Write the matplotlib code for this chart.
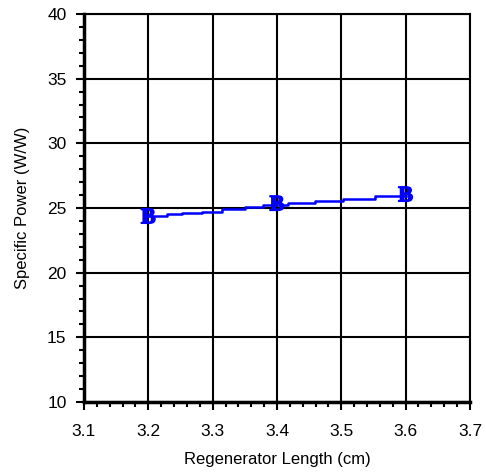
import numpy as np
import matplotlib.pyplot as plt
import matplotlib.patheffects as pe
from matplotlib.ticker import MultipleLocator

# stepped curve
length = [3.2, 3.229, 3.252, 3.283, 3.314, 3.350, 3.378, 3.417, 3.459, 3.503, 3.553, 3.6]
power = [24.38, 24.51, 24.59, 24.71, 24.90, 25.10, 25.23, 25.36, 25.54, 25.69, 25.92, 25.92]

# labelled points
mark_x = [3.2, 3.4, 3.6]
mark_y = [24.2, 25.2, 25.9]

plt.rcParams['font.family'] = ['Liberation Sans', 'DejaVu Sans']

fig = plt.figure(figsize=(4.86, 4.76), dpi=100)
ax = fig.add_axes([0.1728, 0.1555, 0.7942, 0.8151])

ax.plot(length, power, drawstyle='steps-post', color='#0000ff', lw=1.8, zorder=3)
for x, y in zip(mark_x, mark_y):
    ax.text(x, y, 'B', color='#0000ff', fontsize=16, fontweight='bold',
            family='Liberation Serif', ha='center', va='center', zorder=4,
            path_effects=[pe.withStroke(linewidth=1, foreground='#0000ff')])

ax.set_xlim(3.1, 3.7)
ax.set_ylim(10, 40)
ax.xaxis.set_major_locator(MultipleLocator(0.1))
ax.xaxis.set_minor_locator(MultipleLocator(0.02))
ax.yaxis.set_major_locator(MultipleLocator(5))
ax.yaxis.set_minor_locator(MultipleLocator(1))

ax.grid(True, which='major', color='black', lw=1.5)
for s in ['left', 'bottom']:
    ax.spines[s].set_linewidth(2.5)
for s in ['top', 'right']:
    ax.spines[s].set_linewidth(1.5)

ax.tick_params(which='major', direction='out', length=6, width=1.5, labelsize=12.5)
ax.tick_params(which='minor', direction='out', length=3.5, width=1.5)
ax.tick_params(axis='x', which='major', pad=10)
ax.tick_params(axis='y', which='major', pad=6.5)

ax.set_xlabel('Regenerator Length (cm)', fontsize=12, labelpad=9)
ax.set_ylabel('Specific Power (W/W)', fontsize=12, labelpad=12)

fig.savefig('out.png', dpi=100)
